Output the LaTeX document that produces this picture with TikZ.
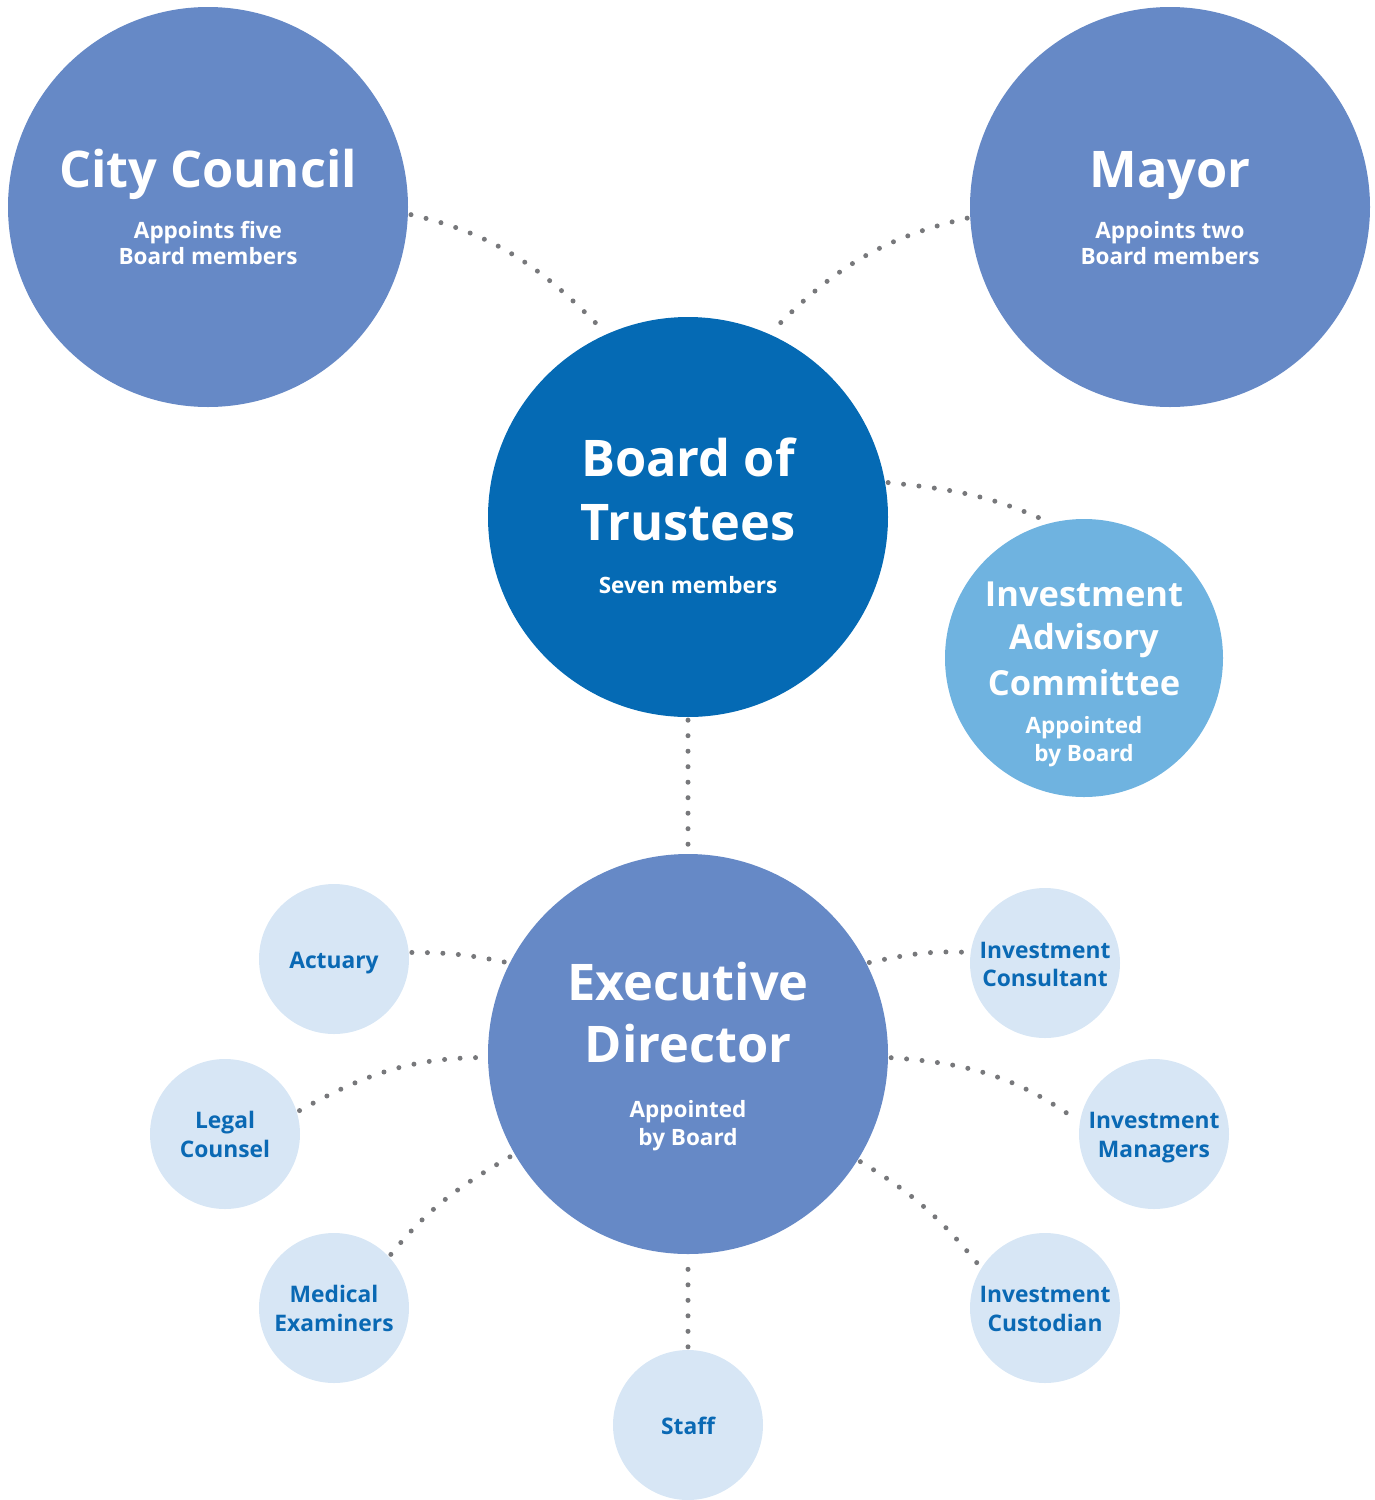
\documentclass[tikz,border=0pt]{standalone}
\usepackage{fontspec}
\setmainfont{Open Sans}
\definecolor{midblue}{HTML}{6689C6}
\definecolor{darkblue}{HTML}{056AB4}
\definecolor{skyblue}{HTML}{6FB3E0}
\definecolor{paleblue}{HTML}{D7E6F5}
\definecolor{textblue}{HTML}{0A69B4}
\definecolor{dotgray}{HTML}{77787B}
\tikzset{
  bigcircle/.style={circle,minimum size=400pt,inner sep=0pt},
  smallcircle/.style={circle,fill=paleblue,minimum size=150pt,inner sep=0pt},
  bigtitle/.style={anchor=base,text=white,font=\fontsize{50.5}{60}\selectfont\bfseries},
  midtitle/.style={anchor=base,text=white,font=\fontsize{34.5}{40}\selectfont\bfseries},
  subtext/.style={anchor=base,text=white,font=\fontsize{22.5}{26}\selectfont\bfseries},
  smalltext/.style={anchor=base,text=textblue,font=\fontsize{22.8}{26}\selectfont\bfseries},
  conn/.style={draw=dotgray,line width=5pt,line cap=round,dash pattern=on 0pt off 15.5pt,shorten <=3pt,shorten >=2pt},
}
\begin{document}
\begin{tikzpicture}[x=1pt,y=-1pt]
\useasboundingbox (0,0) rectangle (1375,1500);
% circles
\node[bigcircle,fill=midblue] (cc) at (208,207) {};
\node[bigcircle,fill=midblue] (mayor) at (1170,207) {};
\node[bigcircle,fill=darkblue] (bot) at (688,517) {};
\node[circle,fill=skyblue,minimum size=278pt,inner sep=0pt] (iac) at (1084,658) {};
\node[bigcircle,fill=midblue] (ed) at (688,1054) {};
\node[smallcircle] (act) at (334,959) {};
\node[smallcircle] (legal) at (225,1134) {};
\node[smallcircle] (med) at (334,1308) {};
\node[smallcircle] (staff) at (688,1425) {};
\node[smallcircle] (cons) at (1045,963) {};
\node[smallcircle] (mgr) at (1154,1134) {};
\node[smallcircle] (cust) at (1045,1308) {};
% connectors
\draw[conn] (cc.-2) to[out=-13,in=134] (bot.114);
\draw[conn] (mayor.-177.5) to[out=193,in=46] (bot.66.6);
\draw[conn] (bot.10.3) to[out=-6,in=155] (iac.104);
\draw[conn] (bot.south) -- (ed.north);
\draw[conn] (act.5) to[out=0,in=168] (ed.153.4);
\draw[conn] (legal.17.6) to[out=29,in=180] (ed.181.4);
\draw[conn] (med.43.6) to[out=51,in=210] (ed.210);
\draw[conn] (staff.north) -- (ed.south);
\draw[conn] (ed.27.6) to[out=12,in=177] (cons.172);
\draw[conn] (ed.-1.4) to[out=-4,in=144] (mgr.171);
\draw[conn] (ed.-32) to[out=-31,in=129] (cust.148.4);
% texts
\node[bigtitle] (cct) at (208,187) {City Council};
\node[subtext] (ccs1) at (208,238) {Appoints five};
\node[subtext] (ccs2) at (208,264) {Board members};
\node[bigtitle] (mt) at (1170,187) {Mayor};
\node[subtext] (ms1) at (1170,238) {Appoints two};
\node[subtext] (ms2) at (1170,264) {Board members};
\node[bigtitle] (bt1) at (688,476) {Board of};
\node[bigtitle] (bt2) at (688,540) {Trustees};
\node[subtext] (bs) at (688,593) {Seven members};
\node[midtitle] (it1) at (1084,606) {Investment};
\node[midtitle] (it2) at (1084,649) {Advisory};
\node[midtitle] (it3) at (1084,695) {Committee};
\node[subtext] (is1) at (1084,733) {Appointed};
\node[subtext] (is2) at (1084,761) {by Board};
\node[bigtitle] (et1) at (688,1000) {Executive};
\node[bigtitle] (et2) at (688,1062) {Director};
\node[subtext] (es1) at (688,1117) {Appointed};
\node[subtext] (es2) at (688,1145) {by Board};
\node[smalltext] (actt) at (334,968) {Actuary};
\node[smalltext] (lt1) at (225,1128) {Legal};
\node[smalltext] (lt2) at (225,1157) {Counsel};
\node[smalltext] (mdt1) at (334,1302) {Medical};
\node[smalltext] (mdt2) at (334,1331) {Examiners};
\node[smalltext] (st) at (688,1434) {Staff};
\node[smalltext] (ct1) at (1045,958) {Investment};
\node[smalltext] (ct2) at (1045,986) {Consultant};
\node[smalltext] (mgt1) at (1154,1128) {Investment};
\node[smalltext] (mgt2) at (1154,1157) {Managers};
\node[smalltext] (cut1) at (1045,1302) {Investment};
\node[smalltext] (cut2) at (1045,1331) {Custodian};
\end{tikzpicture}
\end{document}
